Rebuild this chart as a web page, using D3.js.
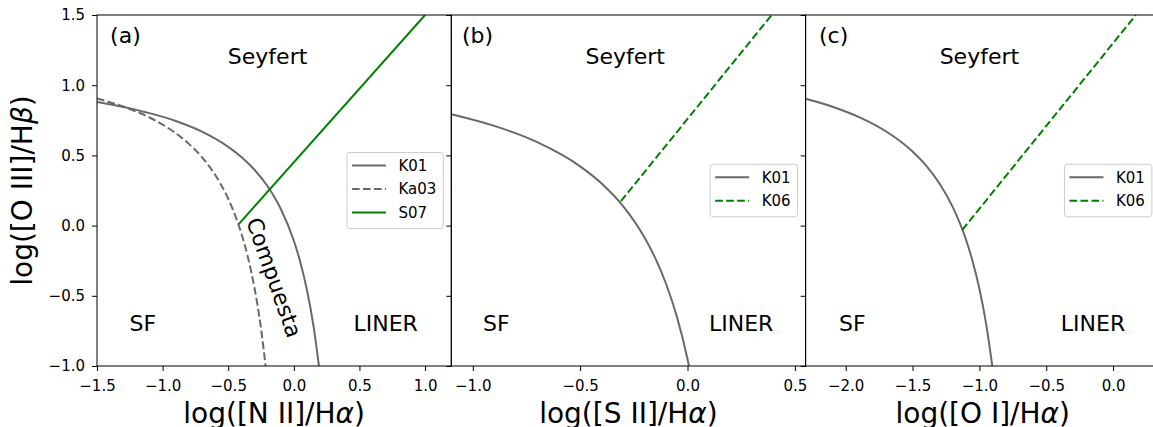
<!DOCTYPE html>
<html>
<head>
<meta charset="utf-8">
<script src="https://cdn.jsdelivr.net/npm/d3@7"></script>
<style>
  body { margin: 0; background: #fff; }
  svg { display: block; font-family: "DejaVu Sans", sans-serif; }
</style>
</head>
<body>
<div id="container"></div>
<script>
"use strict"

/* DATA
 */

const yTicks = [-1.0, -0.5, 0.0, 0.5, 1.0, 1.5];
const niiTicks = [-1.5, -1.0, -0.5, 0.0, 0.5, 1.0];
const siiTicks = [-1.0, -0.5, 0.0, 0.5];
const oiTicks = [-2.0, -1.5, -1.0, -0.5, 0.0];

// [N II]/Ha panel
const niiK01 = [[-1.5, 0.880], [-1.3, 0.845], [-1.1, 0.801], [-0.9, 0.745], [-0.7, 0.669],
    [-0.5, 0.561], [-0.4, 0.489], [-0.3, 0.398], [-0.2, 0.280], [-0.1, 0.120], [0.0, -0.108],
    [0.05, -0.262], [0.1, -0.459], [0.15, -0.716], [0.192, -1.004]];
const niiKa03 = [[-1.5, 0.906], [-1.3, 0.848], [-1.1, 0.770], [-0.9, 0.658], [-0.8, 0.582],
    [-0.7, 0.487], [-0.6, 0.362], [-0.5, 0.191], [-0.45, 0.080], [-0.4, -0.056],
    [-0.35, -0.225], [-0.3, -0.443], [-0.25, -0.733], [-0.215, -1.002]];
const niiS07 = [[-0.42, 0.01], [1.0, 1.5]];

// [S II]/Ha panel
const siiK01 = [[-1.1, 0.793], [-0.9, 0.710], [-0.7, 0.594], [-0.5, 0.422], [-0.4, 0.300],
    [-0.3, 0.139], [-0.2, -0.085], [-0.15, -0.232], [-0.1, -0.414], [-0.05, -0.646],
    [0.0, -0.950], [0.008, -1.008]];
const siiK06 = [[-0.31, 0.174], [0.392, 1.5]];

// [O I]/Ha panel
const oiK01 = [[-2.3, 0.903], [-2.1, 0.847], [-1.9, 0.773], [-1.7, 0.672], [-1.5, 0.528],
    [-1.4, 0.429], [-1.3, 0.302], [-1.2, 0.133], [-1.1, -0.101], [-1.05, -0.257],
    [-1.0, -0.450], [-0.95, -0.698], [-0.9, -1.025]];
const oiK06 = [[-1.128, -0.031], [0.17, 1.5]];

const GRAY = "#696969",
    GREEN = "#008000",
    DASH = "7.7,3.3";

const panels = [
    {
        tag: "(a)", domain: [-1.5, 1.2], ticks: niiTicks,
        xlabel: "log([N II]/H", series: [
            {name: "K01", values: niiK01, color: GRAY, dash: null},
            {name: "Ka03", values: niiKa03, color: GRAY, dash: DASH},
            {name: "S07", values: niiS07, color: GREEN, dash: null}
        ],
        tagX: -1.4, seyfertX: -0.2, sfX: -1.15, linerX: 0.7
    },
    {
        tag: "(b)", domain: [-1.1, 0.55], ticks: siiTicks,
        xlabel: "log([S II]/H", series: [
            {name: "K01", values: siiK01, color: GRAY, dash: null},
            {name: "K06", values: siiK06, color: GREEN, dash: DASH}
        ],
        tagX: -1.05, seyfertX: -0.29, sfX: -0.89, linerX: 0.25
    },
    {
        tag: "(c)", domain: [-2.3, 0.35], ticks: oiTicks,
        xlabel: "log([O I]/H", series: [
            {name: "K01", values: oiK01, color: GRAY, dash: null},
            {name: "K06", values: oiK06, color: GREEN, dash: DASH}
        ],
        tagX: -2.2, seyfertX: -1.0, sfX: -1.95, linerX: -0.15
    }
];

/* LAYOUT
 */

const W = 1153, H = 427;
const marginLeft = 97, marginTop = 15;
const panelW = 354.3, panelH = 351;

const svg = d3.select("#container").append("svg")
    .attr("width", W)
    .attr("height", H);

const y = d3.scaleLinear()
    .domain([-1.0, 1.5])
    .range([marginTop + panelH, marginTop]);

const fmt = d3.format(".1f");

function drawLegend(g, entries, right, cy) {
    const rowH = 23.5;
    const h = 29 + rowH * (entries.length - 1);
    const box = g.append("g");
    const rect = box.append("rect");
    let maxW = 0;
    entries.forEach((e, i) => {
        const ry = 13 + i * rowH;
        const row = box.append("g").attr("transform", `translate(0,${ry})`);
        row.append("line")
            .attr("x1", 5).attr("x2", 39)
            .attr("stroke", e.color)
            .attr("stroke-width", 2)
            .attr("stroke-dasharray", e.dash);
        const t = row.append("text")
            .attr("x", 51.5)
            .attr("dy", "0.35em")
            .style("font-size", "15px")
            .text(e.name);
        maxW = Math.max(maxW, t.node().getComputedTextLength());
    });
    const w = 51.5 + maxW + 7;
    rect.attr("width", w).attr("height", h)
        .attr("rx", 3)
        .attr("fill", "white").attr("fill-opacity", 0.8)
        .attr("stroke", "#cccccc").attr("stroke-width", 1);
    box.attr("transform", `translate(${right - w},${cy - h / 2})`);
}

/* PANELS
 */

panels.forEach((p, i) => {
    const x0 = marginLeft + i * panelW;
    const x = d3.scaleLinear()
        .domain(p.domain)
        .range([x0, x0 + panelW]);

    const g = svg.append("g");

    const clipId = "clip" + i;
    svg.append("clipPath").attr("id", clipId)
        .append("rect")
        .attr("x", x0).attr("y", marginTop)
        .attr("width", panelW).attr("height", panelH);

    const line = d3.line()
        .curve(d3.curveMonotoneX)
        .x((d) => x(d[0]))
        .y((d) => y(d[1]));

    p.series.forEach((s) => {
        g.append("path")
            .attr("d", line(s.values))
            .attr("clip-path", `url(#${clipId})`)
            .attr("fill", "none")
            .attr("stroke", s.color)
            .attr("stroke-width", 2)
            .attr("stroke-dasharray", s.dash);
    });

    // region labels
    const lab = (txt, dx, dy, anchor) => g.append("text")
        .attr("x", x(dx)).attr("y", y(dy))
        .attr("text-anchor", anchor)
        .style("font-size", "22px")
        .text(txt);
    lab(p.tag, p.tagX, 1.3, "start");
    lab("Seyfert", p.seyfertX, 1.15, "middle");
    lab("SF", p.sfX, -0.75, "middle");
    lab("LINER", p.linerX, -0.75, "middle");

    if (i == 0) {
        g.append("text")
            .attr("transform", `translate(${x(-0.15)},${y(-0.37)}) rotate(70.5)`)
            .attr("text-anchor", "middle")
            .attr("dy", "0.35em")
            .style("font-size", "22px")
            .text("Compuesta");
    }

    // axes
    const xAxis = g.append("g")
        .attr("transform", `translate(0,${marginTop + panelH})`)
        .call(d3.axisBottom(x).tickValues(p.ticks).tickFormat(fmt)
            .tickSize(5).tickSizeOuter(0).tickPadding(9));
    const yAxis = g.append("g")
        .attr("transform", `translate(${x0},0)`)
        .call(d3.axisLeft(y).tickValues(yTicks)
            .tickFormat(i == 0 ? fmt : () => "")
            .tickSize(5).tickSizeOuter(0).tickPadding(7));
    [xAxis, yAxis].forEach((a) => {
        a.select(".domain").remove();
        a.selectAll("text")
            .style("font-family", "DejaVu Sans")
            .style("font-size", "15px")
            .attr("fill", "#000");
        a.selectAll("line").attr("stroke", "#000");
    });

    g.append("rect")
        .attr("x", x0).attr("y", marginTop)
        .attr("width", panelW).attr("height", panelH)
        .attr("fill", "none")
        .attr("stroke", "#000")
        .attr("stroke-width", 1);

    drawLegend(g, p.series, x0 + panelW - 8, marginTop + panelH / 2);

    // x label
    const xl = g.append("text")
        .attr("x", x0 + panelW / 2).attr("y", 423)
        .attr("text-anchor", "middle")
        .style("font-size", "28px")
        .text(p.xlabel);
    xl.append("tspan").style("font-style", "italic").text("\u03b1");
    xl.append("tspan").text(")");
});

// y label
const ylab = svg.append("text")
    .attr("transform", `translate(32,${marginTop + panelH / 2}) rotate(-90)`)
    .attr("text-anchor", "middle")
    .style("font-size", "28px")
    .text("log([O III]/H");
ylab.append("tspan").style("font-style", "italic").text("\u03b2");
ylab.append("tspan").text(")");

</script>
</body>
</html>
